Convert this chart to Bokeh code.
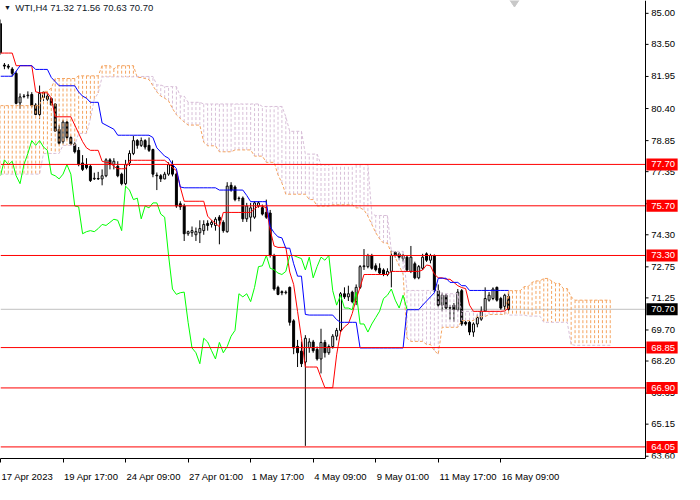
from bokeh.plotting import figure
from bokeh.models import Range1d, FixedTicker, LinearAxis, ColumnDataSource
from bokeh.embed import file_html
from bokeh.resources import INLINE
from bokeh.core.properties import value

# ---------------- data (WTI, H4) ----------------
date_ticks = [0, 16, 32, 48, 64, 80, 96, 112, 128]
date_labels = ["17 Apr 2023", "19 Apr 17:00", "24 Apr 09:00", "27 Apr 01:00", "1 May 17:00",
               "4 May 09:00", "9 May 01:00", "11 May 17:00", "16 May 09:00"]
price_ticks = [85.00, 83.50, 81.95, 80.40, 78.85, 77.35, 75.80, 74.30, 72.75,
               71.25, 69.70, 68.20, 66.65, 65.15, 63.60]
levels = [77.70, 75.70, 73.30, 68.85, 66.90, 64.05]
bid = 70.70

opens = [84.5, 82.5, 82.45, 82.31, 82.1, 80.67, 80.98, 81.02, 81.08, 80.57,
         80.11, 80.93, 81.0, 80.88, 80.62, 79.39, 78.8, 79.75, 79.0, 78.69,
         78.38, 77.77, 77.69, 77.61, 77.0, 77.02, 77.0, 77.15, 77.92, 77.69,
         77.61, 77.23, 76.77, 77.77, 78.23, 78.85, 78.62, 78.85, 78.62, 78.42,
         77.18, 77.15, 77.0, 77.23, 77.69, 77.23, 75.8, 75.69, 74.35, 74.4,
         74.3, 74.4, 74.5, 74.85, 74.8, 74.75, 75.15, 74.9, 74.45, 76.69,
         76.61, 76.05, 76.07, 75.07, 75.15, 75.15, 75.69, 75.61, 75.38, 75.35,
         73.3, 71.76, 71.55, 71.5, 71.76, 70.14, 68.91, 68.68, 68.15, 68.84,
         69.12, 68.76, 68.3, 69.1, 68.6, 68.9, 69.4, 69.68, 71.45, 71.3,
         71.53, 71.07, 71.76, 72.76, 72.76, 73.3, 72.8, 72.68, 72.6, 72.38,
         72.53, 73.45, 73.38, 73.3, 73.22, 72.53, 72.9, 72.22, 72.68, 73.38,
         73.07, 73.3, 71.6, 70.9, 71.38, 70.78, 70.9, 70.68, 71.6, 70.07,
         70.07, 69.6, 69.99, 70.22, 70.61, 71.14, 71.22, 71.76, 71.22, 70.84,
         71.32]
highs = [84.7, 82.6, 82.55, 82.4, 82.2, 81.13, 81.1, 81.23, 81.19, 80.66,
         81.51, 81.23, 81.16, 80.93, 80.65, 79.6, 79.85, 79.8, 79.08, 78.77,
         78.54, 78.15, 78.0, 77.69, 77.3, 77.34, 77.46, 78.0, 78.0, 78.0,
         77.85, 77.3, 77.92, 78.38, 79.08, 78.92, 79.0, 78.92, 79.0, 78.46,
         77.31, 77.23, 77.34, 77.8, 77.89, 77.3, 75.92, 75.8, 74.5, 74.7,
         74.65, 75.0, 75.0, 75.0, 75.0, 75.15, 75.25, 75.0, 76.84, 76.84,
         76.69, 76.15, 76.15, 75.84, 75.84, 75.92, 75.92, 75.76, 76.0, 75.5,
         73.38, 71.84, 71.61, 71.61, 71.8, 70.22, 69.22, 69.14, 69.45, 69.3,
         69.22, 68.9, 69.76, 69.22, 69.0, 69.5, 69.8, 71.53, 71.76, 71.84,
         71.6, 71.9, 72.84, 73.61, 73.38, 73.38, 72.92, 72.92, 72.68, 72.68,
         73.53, 73.5, 73.45, 73.38, 73.3, 73.76, 73.0, 72.84, 73.38, 73.45,
         73.38, 73.35, 71.9, 71.5, 71.45, 70.9, 71.0, 71.68, 71.68, 70.14,
         70.14, 70.07, 70.45, 70.84, 71.76, 71.53, 71.76, 71.8, 71.3, 71.45,
         71.56]
lows = [83.0, 82.3, 82.3, 81.95, 80.6, 80.39, 80.9, 80.88, 80.46, 80.08,
        79.89, 80.77, 80.77, 80.54, 79.28, 78.66, 78.7, 78.9, 78.62, 78.23,
        77.61, 77.38, 77.46, 76.85, 76.95, 76.95, 76.69, 77.08, 77.46, 77.46,
        77.08, 76.69, 76.69, 77.62, 78.15, 78.46, 78.54, 78.42, 78.3, 77.08,
        76.46, 76.85, 76.98, 77.15, 77.12, 75.6, 75.5, 74.0, 74.25, 74.2,
        74.0, 73.9, 74.3, 74.5, 74.65, 74.5, 73.84, 74.4, 74.4, 76.38,
        75.92, 75.92, 74.92, 74.92, 74.46, 75.07, 75.61, 75.23, 75.07, 73.2,
        71.6, 71.38, 71.38, 71.42, 69.91, 68.53, 67.91, 67.91, 64.1, 68.6,
        68.6, 68.22, 67.6, 68.37, 68.5, 68.8, 69.2, 69.6, 71.2, 71.1,
        70.99, 70.9, 71.68, 72.6, 72.68, 72.61, 72.53, 72.38, 72.3, 72.3,
        71.76, 73.2, 73.1, 73.0, 72.53, 72.45, 72.15, 72.15, 72.6, 72.99,
        72.92, 71.53, 70.8, 70.6, 70.7, 70.2, 70.1, 70.6, 69.9, 69.91,
        69.45, 69.37, 69.83, 70.14, 70.61, 71.07, 71.14, 71.07, 70.68, 70.68,
        70.63]
closes = [83.1, 82.45, 82.4, 82.1, 80.65, 80.96, 81.0, 81.05, 80.54, 80.11,
          81.13, 81.19, 80.85, 80.57, 79.31, 78.72, 79.75, 79.0, 78.69, 78.31,
          77.69, 77.46, 77.54, 76.92, 77.03, 77.0, 77.15, 77.92, 77.69, 77.85,
          77.15, 76.77, 77.69, 78.23, 78.85, 78.62, 78.85, 78.54, 78.38, 77.23,
          77.15, 77.0, 77.23, 77.69, 77.23, 75.69, 75.65, 74.35, 74.45, 74.5,
          74.45, 74.6, 74.8, 74.75, 74.9, 75.05, 75.0, 74.5, 76.65, 76.46,
          76.0, 76.07, 75.07, 75.69, 75.6, 75.84, 75.84, 75.3, 75.15, 73.3,
          71.68, 71.42, 71.5, 71.53, 70.07, 68.83, 68.6, 68.07, 69.3, 69.12,
          68.7, 68.3, 69.1, 68.6, 68.9, 69.4, 69.68, 71.45, 71.3, 71.45,
          71.07, 71.76, 72.76, 72.8, 73.3, 72.68, 72.61, 72.45, 72.38, 72.53,
          73.3, 73.3, 73.22, 73.15, 72.6, 73.22, 72.22, 72.76, 73.22, 73.07,
          73.3, 71.6, 70.9, 71.38, 70.76, 70.76, 70.68, 71.53, 69.99, 69.99,
          69.6, 69.99, 70.3, 70.61, 71.22, 71.38, 71.68, 71.14, 70.76, 71.38,
          70.70]

tenkan = [83.08, 83.08, 83.08, 83.08, 82.47, 82.47, 82.47, 82.47, 82.47, 81.21,
          81.16, 81.16, 81.16, 80.9, 80.0, 80.0, 80.0, 80.0, 80.0, 79.6,
          79.2, 78.8, 78.5, 78.38, 78.38, 78.38, 77.85, 77.8, 77.8, 77.6,
          77.49, 77.49, 77.49, 77.9, 77.9, 77.9, 77.9, 77.9, 77.9, 77.9,
          77.9, 77.9, 77.9, 77.75, 77.55, 77.4, 76.6, 75.92, 75.92, 75.92,
          75.92, 75.92, 75.92, 75.2, 75.0, 74.85, 74.69, 75.38, 75.38, 75.38,
          75.38, 75.38, 75.38, 75.38, 75.38, 75.55, 75.69, 75.69, 75.6, 74.53,
          73.76, 73.69, 73.69, 73.69, 72.5, 71.9, 70.6, 69.3, 67.91, 67.91,
          67.91, 67.91, 67.4, 66.91, 66.91, 66.91, 68.5, 69.6, 69.85, 70.0,
          70.5, 71.2, 71.76, 72.38, 72.38, 72.38, 72.38, 72.38, 72.38, 72.38,
          72.53, 72.53, 72.53, 72.53, 72.53, 72.53, 72.53, 72.53, 72.6, 72.84,
          72.8, 72.4, 72.22, 72.22, 72.15, 72.15, 72.0, 71.84, 71.75, 71.7,
          70.9, 70.6, 70.6, 70.6, 70.6, 70.6, 70.6, 70.6, 70.6, 70.62,
          70.76]
kijun = [81.96, 81.96, 81.96, 81.96, 82.2, 82.47, 82.47, 82.47, 82.47, 82.29,
         82.29, 82.29, 82.29, 81.9, 81.7, 81.5, 81.5, 81.5, 81.5, 81.5,
         81.2, 81.0, 80.9, 80.7, 80.7, 80.7, 79.7, 79.6, 79.5, 79.4,
         79.11, 79.11, 79.11, 79.11, 79.11, 79.11, 79.11, 79.11, 79.11, 79.0,
         78.5, 78.3, 78.1, 78.0, 77.7, 77.5, 76.61, 76.57, 76.57, 76.57,
         76.57, 76.57, 76.57, 76.57, 76.57, 76.57, 76.46, 76.46, 76.46, 76.46,
         76.46, 76.46, 76.46, 76.2, 75.9, 75.9, 75.9, 75.9, 75.9, 74.69,
         74.4, 74.2, 74.15, 73.65, 73.65, 72.9, 72.3, 72.3, 70.45, 70.42,
         70.42, 70.42, 70.42, 70.42, 70.42, 70.42, 70.2, 70.07, 70.07, 70.07,
         70.07, 70.07, 68.83, 68.83, 68.83, 68.83, 68.83, 68.83, 68.83, 68.83,
         68.83, 68.83, 68.83, 68.83, 70.68, 70.68, 70.68, 70.68, 70.9, 71.1,
         71.3, 71.5, 72.2, 72.2, 72.2, 72.0, 72.0, 72.0, 71.84, 71.84,
         71.61, 71.61, 71.61, 71.61, 71.61, 71.61, 71.61, 71.61, 71.61, 71.61,
         71.61]
span_a = [80.54, 80.54, 80.54, 80.54, 80.54, 80.54, 80.54, 80.54, 80.54, 80.54,
          80.54, 81.23, 81.23, 81.39, 81.85, 81.85, 81.85, 81.85, 81.85, 81.85,
          81.98, 81.98, 81.98, 81.98, 81.98, 81.98, 82.47, 82.47, 82.47, 82.31,
          82.47, 82.47, 82.47, 82.47, 82.47, 81.9, 81.9, 81.85, 81.8, 81.5,
          81.2, 81.0, 80.9, 80.77, 80.4, 80.1, 79.92, 79.75, 79.6, 79.6,
          79.6, 79.6, 78.77, 78.6, 78.6, 78.6, 78.31, 78.31, 78.31, 78.31,
          78.4, 78.4, 78.4, 78.4, 78.4, 78.1, 78.1, 78.1, 77.8, 77.8,
          77.8, 77.2, 76.8, 76.26, 76.26, 76.26, 76.26, 76.26, 76.26, 76.0,
          76.0, 75.69, 75.69, 75.69, 75.69, 75.75, 75.75, 75.75, 75.75, 75.75,
          75.75, 75.6, 75.6, 75.5, 75.2, 74.8, 74.4, 74.1, 73.9, 73.9,
          73.4, 73.2, 72.8, 72.4, 69.3, 69.15, 69.15, 69.15, 69.15, 69.0,
          69.0, 68.7, 68.53, 69.83, 69.83, 69.83, 69.83, 69.83, 70.15, 70.15,
          70.15, 70.15, 70.35, 70.35, 70.35, 70.45, 70.45, 70.45, 70.45, 70.45,
          71.6, 71.6, 71.6, 71.6, 71.8, 71.8, 72.0, 72.07, 72.07, 72.19,
          72.19, 72.07, 71.95, 71.95, 71.7, 71.7, 71.3, 71.14, 71.14, 71.14,
          71.14, 71.14, 71.14, 71.14, 71.14, 71.14, 71.14]
span_b = [77.23, 77.23, 77.23, 77.23, 77.23, 77.23, 77.23, 77.23, 77.23, 77.23,
          77.23, 78.23, 78.23, 78.23, 78.23, 78.23, 78.62, 78.62, 78.62, 78.62,
          79.2, 79.2, 79.2, 79.9, 80.85, 81.15, 81.93, 81.93, 81.93, 81.93,
          81.93, 81.93, 81.93, 81.93, 81.93, 81.95, 81.95, 81.95, 81.95, 81.95,
          81.54, 81.54, 81.46, 81.46, 81.46, 81.46, 81.0, 81.0, 80.7, 80.7,
          80.7, 80.7, 80.62, 80.62, 80.62, 80.62, 80.62, 80.62, 80.62, 80.62,
          80.62, 80.62, 80.62, 80.62, 80.62, 80.62, 80.62, 80.5, 80.5, 80.5,
          80.5, 80.5, 80.5, 80.0, 79.3, 79.3, 79.3, 79.3, 78.2, 78.2,
          78.2, 78.2, 77.69, 77.69, 77.69, 77.69, 77.69, 77.69, 77.69, 77.69,
          77.69, 77.69, 77.69, 77.69, 77.69, 75.3, 75.23, 75.23, 75.23, 75.23,
          73.5, 73.5, 73.5, 73.5, 71.61, 71.61, 71.61, 71.61, 71.61, 71.61,
          71.61, 71.61, 71.61, 71.45, 71.45, 71.45, 71.45, 71.45, 70.6, 70.6,
          70.6, 70.6, 70.6, 70.6, 70.6, 70.6, 70.6, 70.6, 70.6, 70.6,
          70.42, 70.42, 70.42, 70.42, 70.42, 70.37, 70.37, 70.37, 70.37, 70.07,
          70.07, 70.07, 70.07, 70.07, 70.07, 70.07, 69.0, 68.96, 68.96, 68.96,
          68.96, 68.96, 68.96, 68.96, 68.96, 68.96, 68.96]
chikou_shift = 26

n = len(opens)
assert len(highs) == n and len(lows) == n and len(closes) == n
assert len(tenkan) == n and len(kijun) == n
assert len(span_a) == len(span_b) == n + chikou_shift

# ---------------- layout constants ----------------
W, H = 684, 484
X_END = 175          # bars visible across the whole canvas width (chart + price scale)
AXIS_X = 165         # where the price scale starts
Y_LO, Y_HI = 63.49, 85.62
FONT = "Liberation Sans"
FS = 9.5
px_per_bar = W / X_END

p = figure(width=W, height=H, x_range=Range1d(0, X_END), y_range=Range1d(Y_LO, Y_HI),
           output_backend="svg", toolbar_location=None,
           x_axis_location=None, y_axis_location=None,
           min_border_left=0, min_border_top=0, min_border_right=0, min_border_bottom=0,
           background_fill_color="white", border_fill_color="white")
p.outline_line_color = None
p.xgrid.visible = False
p.ygrid.visible = False

# bottom time axis: one axis for line + ticks, one for left-aligned labels
ax_ticks = LinearAxis(ticker=FixedTicker(ticks=date_ticks), bounds=(0, AXIS_X))
ax_ticks.axis_line_color = "black"
ax_ticks.major_tick_line_color = "black"
ax_ticks.major_tick_in = 0
ax_ticks.major_tick_out = 4
ax_ticks.minor_tick_line_color = None
ax_ticks.major_label_overrides = {t: "" for t in date_ticks}
ax_ticks.major_label_text_font_size = "0px"
ax_ticks.major_label_standoff = 0
p.add_layout(ax_ticks, "below")

ADV = {" ": 0.278, ":": 0.278, "A": 0.667, "p": 0.556, "r": 0.333, "M": 0.833, "a": 0.556, "y": 0.5}
def text_w(s):
    return sum(ADV.get(ch, 0.556) for ch in s) * FS
label_pos = [t + (text_w(s) / 2 + 1) / px_per_bar for t, s in zip(date_ticks, date_labels)]
ax_labels = LinearAxis(ticker=FixedTicker(ticks=label_pos))
ax_labels.axis_line_color = None
ax_labels.major_tick_line_color = None
ax_labels.minor_tick_line_color = None
ax_labels.major_label_overrides = {pos: s for pos, s in zip(label_pos, date_labels)}
ax_labels.major_label_text_font = FONT
ax_labels.major_label_text_font_size = f"{FS}px"
ax_labels.major_label_text_color = "black"
ax_labels.major_label_standoff = 2
p.add_layout(ax_labels, "below")

# bid line (under everything)
p.segment(x0=[0], y0=[bid], x1=[AXIS_X], y1=[bid], line_color="#c0c0c0", line_width=1)

# candles
idx = list(range(n))
bull = [i for i in idx if closes[i] >= opens[i]]
bear = [i for i in idx if closes[i] < opens[i]]
p.segment(x0=idx, y0=lows, x1=idx, y1=highs, line_color="black", line_width=1)
p.vbar(x=bull, width=0.5, top=[closes[i] for i in bull], bottom=[opens[i] for i in bull],
       fill_color="white", line_color="black", line_width=1)
p.vbar(x=bear, width=0.5, top=[opens[i] for i in bear], bottom=[closes[i] for i in bear],
       fill_color="black", line_color="black", line_width=1)

# Ichimoku cloud: dotted histogram between the spans
ck = list(range(len(span_a)))
col = ["#f4a460" if a >= b else "#d8bfd8" for a, b in zip(span_a, span_b)]
p.segment(x0=ck, y0=span_a, x1=ck, y1=span_b, line_color=col, line_width=1, line_dash="3 2")
p.line(ck, span_a, line_color="#f4a460", line_width=1, line_dash="3 2")
p.line(ck, span_b, line_color="#d8bfd8", line_width=1, line_dash="3 2")

# Ichimoku lines
p.line(idx, tenkan, line_color="#ff0000", line_width=1)
p.line(idx, kijun, line_color="#0000ff", line_width=1)
p.line([i - chikou_shift for i in idx[chikou_shift:]], closes[chikou_shift:],
       line_color="#00ff00", line_width=1)

# horizontal levels (stop at the price scale)
p.segment(x0=[0] * len(levels), y0=levels, x1=[AXIS_X] * len(levels), y1=levels,
          line_color="#ff0000", line_width=1)

# chart-shift marker at the top edge, just after the last bar
p.scatter(x=[n + 0.5], y=[Y_HI], marker="diamond", size=13, fill_color="#c8c8c8",
          line_color="#c8c8c8")

# ---------------- price scale on the right ----------------
p.vspan(x=[AXIS_X], line_color="black", line_width=1)
tick_src = ColumnDataSource(dict(y=price_ticks, txt=[f"{t:.2f}" for t in price_ticks]))
p.segment(x0=AXIS_X, y0="y", x1=AXIS_X + 0.8, y1="y", source=tick_src, line_color="black")
p.text(x=AXIS_X + 1.5, y="y", text="txt", source=tick_src, text_font=value(FONT),
       text_font_size=f"{FS}px", text_color="black", text_baseline="middle", text_align="left")

tag_x = AXIS_X + 0.25 + 4.0
tag_src = ColumnDataSource(dict(y=levels, txt=[f"{lv:.2f}" for lv in levels]))
p.rect(x=tag_x, y="y", width=8.0, height=12, height_units="screen", source=tag_src,
       fill_color="#ff0000", line_color=None)
p.text(x=AXIS_X + 1.5, y="y", text="txt", source=tag_src, text_font=value(FONT),
       text_font_size=f"{FS}px", text_color="white", text_baseline="middle", text_align="left")
bid_src = ColumnDataSource(dict(y=[bid], txt=[f"{bid:.2f}"]))
p.rect(x=tag_x, y="y", width=8.0, height=12, height_units="screen", source=bid_src,
       fill_color="black", line_color=None)
p.text(x=AXIS_X + 1.5, y="y", text="txt", source=bid_src, text_font=value(FONT),
       text_font_size=f"{FS}px", text_color="white", text_baseline="middle", text_align="left")

# title in the top-left corner
title_y = Y_HI - 0.36
title_src = ColumnDataSource(dict(
    x=[0.9, 3.8], y=[title_y, title_y],
    txt=["\u25BC", f"WTI,H4  {opens[-1]:.2f} {highs[-1]:.2f} {lows[-1]:.2f} {closes[-1]:.2f}"],
    fs=["7px", f"{FS}px"]))
p.text(x="x", y="y", text="txt", source=title_src, text_font=value(FONT), text_font_size="fs",
       text_color="#101828", text_baseline="middle", text_align="left")

open("out.html", "w").write(file_html(p, INLINE))
